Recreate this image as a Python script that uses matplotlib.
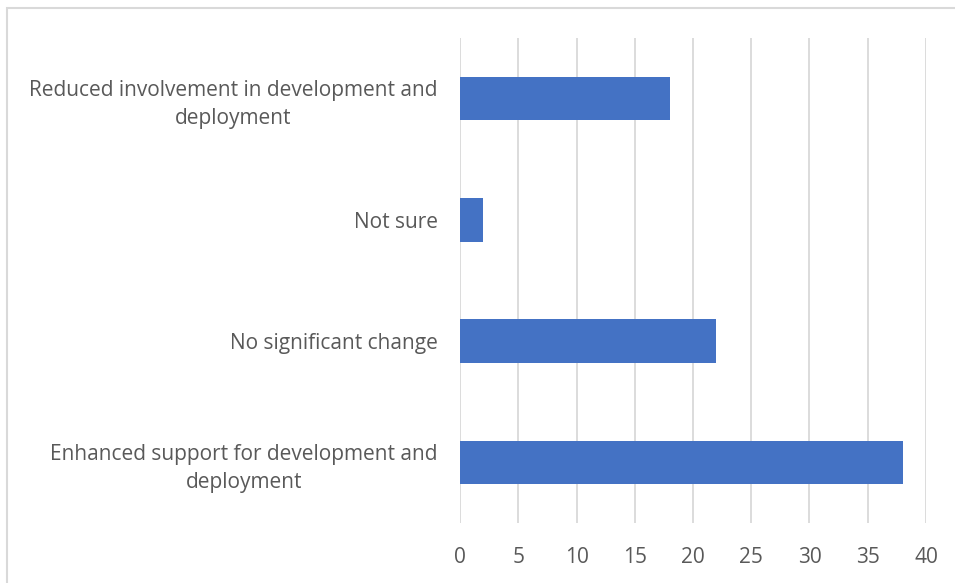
import matplotlib.pyplot as plt
from matplotlib.patches import Rectangle

categories = ['Enhanced support for development and\ndeployment',
              'No significant change',
              'Not sure',
              'Reduced involvement in development and\ndeployment']
values = [38, 22, 2, 18]
xticks = [0, 5, 10, 15, 20, 25, 30, 35, 40]

plt.rcParams['font.family'] = ['Open Sans', 'DejaVu Sans']
textColor = '#595959'

fig = plt.figure(figsize=(9.55, 5.83), dpi=100)
ax = fig.add_axes([0.4817, 0.1029, 0.9696 - 0.4817, 0.9348 - 0.1029])

ax.barh(range(len(values)), values, height=0.36, color='#4472C4', zorder=3)
ax.set_ylim(-0.5, len(values) - 0.5)
ax.set_xlim(0, 40)
ax.set_xticks(xticks)
ax.set_xticklabels([str(t) for t in xticks])
ax.set_yticks(range(len(categories)))
ax.set_yticklabels(categories, multialignment='center', linespacing=1.45)

ax.grid(axis='x', color='#D9D9D9', linewidth=1.3, zorder=0)
for s in ax.spines.values():
    s.set_visible(False)
ax.tick_params(axis='both', length=0, colors=textColor, labelsize=15)
ax.tick_params(axis='y', pad=16)
ax.tick_params(axis='x', pad=17)

# chart frame, clipped at right and bottom edges
fig.patches.append(Rectangle((7 / 955, -0.05), 1.1, 1 - 8 / 583 + 0.05,
                             transform=fig.transFigure, fill=False,
                             edgecolor='#D9D9D9', linewidth=1.5))

plt.savefig('out.png', dpi=100)
